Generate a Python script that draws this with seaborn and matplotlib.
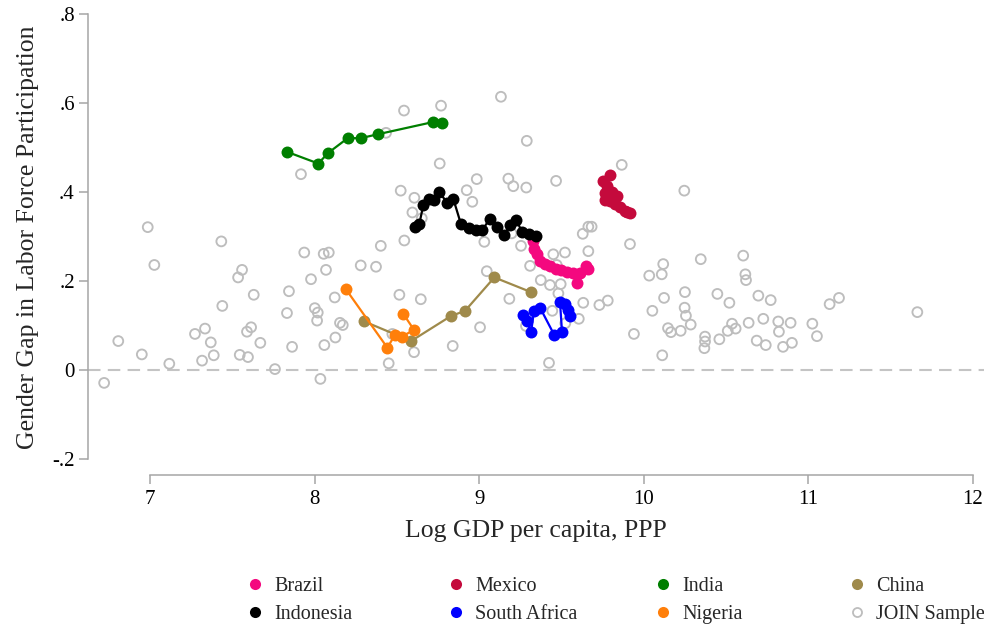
import numpy as np
import pandas as pd
import matplotlib
matplotlib.use("Agg")
import matplotlib.pyplot as plt
import seaborn as sns
from matplotlib.lines import Line2D

# ---------------- data ----------------
join_gdp = [6.986, 7.026, 7.433, 7.559, 7.535, 7.630, 7.439, 7.844, 7.832, 7.937,
            8.055, 8.086, 8.069, 7.978, 8.122, 8.001, 8.019, 8.015, 8.154, 8.171,
            8.126, 8.059, 7.863, 7.670, 7.614, 7.589, 7.334, 7.273, 7.369, 7.387,
            7.316, 7.545, 7.595, 6.807, 6.950, 7.117, 7.759, 6.721, 8.035, 7.917,
            9.132, 8.768, 8.543, 8.434, 9.289, 8.760, 9.866, 8.985, 9.177, 9.207,
            9.286, 9.467, 8.523, 8.924, 8.606, 8.958, 8.594, 8.651, 8.402, 8.545,
            9.031, 9.197, 9.254, 9.629, 9.683, 9.663, 9.916, 9.450, 9.521, 9.663,
            9.309, 9.471, 8.280, 8.373, 9.046, 9.374, 9.430, 9.495, 9.481, 8.515,
            8.645, 9.183, 9.632, 9.730, 9.781, 9.444, 9.605, 9.523, 9.005, 9.284,
            8.472, 8.604, 8.839, 8.450, 9.424,
            10.246, 10.118, 10.033, 10.109, 10.346, 10.604, 10.617, 10.621, 10.123, 10.250,
            10.052, 10.248, 10.256, 10.447, 10.520, 10.696, 10.771, 11.129, 11.186, 11.662,
            9.940, 10.147, 10.165, 10.224, 10.285, 10.372, 10.372, 10.368, 10.459, 10.510,
            10.536, 10.558, 10.637, 10.726, 10.686, 10.741, 10.817, 10.821, 10.892, 10.846,
            10.900, 11.024, 11.052, 10.112]
join_gap = [0.321, 0.236, 0.289, 0.225, 0.208, 0.169, 0.144, 0.177, 0.128, 0.264,
            0.261, 0.264, 0.225, 0.204, 0.163, 0.139, 0.129, 0.111, 0.106, 0.101,
            0.073, 0.056, 0.052, 0.061, 0.096, 0.086, 0.093, 0.081, 0.062, 0.033,
            0.021, 0.034, 0.029, 0.065, 0.035, 0.014, 0.002, -0.029, -0.020, 0.440,
            0.614, 0.594, 0.583, 0.533, 0.515, 0.464, 0.461, 0.429, 0.430, 0.413,
            0.410, 0.425, 0.403, 0.404, 0.387, 0.378, 0.354, 0.341, 0.279, 0.291,
            0.288, 0.307, 0.279, 0.306, 0.322, 0.322, 0.283, 0.260, 0.264, 0.267,
            0.234, 0.236, 0.235, 0.232, 0.222, 0.202, 0.191, 0.193, 0.172, 0.169,
            0.159, 0.160, 0.151, 0.146, 0.156, 0.133, 0.115, 0.105, 0.096, 0.099,
            0.081, 0.040, 0.054, 0.015, 0.016,
            0.403, 0.238, 0.212, 0.215, 0.249, 0.257, 0.215, 0.202, 0.162, 0.175,
            0.133, 0.140, 0.122, 0.171, 0.151, 0.167, 0.157, 0.148, 0.162, 0.130,
            0.081, 0.094, 0.085, 0.088, 0.102, 0.075, 0.064, 0.049, 0.069, 0.088,
            0.104, 0.093, 0.106, 0.115, 0.066, 0.056, 0.109, 0.086, 0.106, 0.052,
            0.061, 0.104, 0.076, 0.033]

brazil_gdp = [9.324, 9.333, 9.354, 9.369, 9.400, 9.430, 9.464, 9.497, 9.533, 9.567, 9.592, 9.615, 9.649, 9.663]
brazil_gap = [0.290, 0.272, 0.261, 0.245, 0.238, 0.233, 0.228, 0.224, 0.221, 0.217, 0.196, 0.219, 0.233, 0.226]

mexico_gdp = [9.795, 9.752, 9.776, 9.764, 9.804, 9.816, 9.837, 9.782, 9.767, 9.795, 9.825, 9.855, 9.886, 9.898, 9.919]
mexico_gap = [0.439, 0.424, 0.413, 0.398, 0.401, 0.390, 0.391, 0.391, 0.383, 0.379, 0.374, 0.366, 0.358, 0.355, 0.352]

india_gdp = [7.834, 8.022, 8.083, 8.201, 8.280, 8.387, 8.717, 8.772]
india_gap = [0.490, 0.464, 0.488, 0.521, 0.521, 0.530, 0.557, 0.554]

china_gdp = [8.302, 8.586, 8.827, 8.914, 9.092, 9.315]
china_gap = [0.109, 0.065, 0.121, 0.133, 0.208, 0.175]

indonesia_gdp = [8.610, 8.636, 8.660, 8.694, 8.724, 8.758, 8.804, 8.843, 8.889, 8.938,
                 8.981, 9.017, 9.064, 9.109, 9.151, 9.187, 9.225, 9.261, 9.301, 9.346]
indonesia_gap = [0.322, 0.328, 0.370, 0.384, 0.381, 0.400, 0.376, 0.384, 0.328, 0.318,
                 0.315, 0.314, 0.339, 0.321, 0.304, 0.325, 0.337, 0.310, 0.306, 0.300]

safrica_gdp = [9.268, 9.289, 9.315, 9.333, 9.371, 9.457, 9.503, 9.491, 9.521, 9.538, 9.550]
safrica_gap = [0.124, 0.110, 0.085, 0.133, 0.139, 0.078, 0.086, 0.152, 0.149, 0.134, 0.122]

nigeria_gdp = [8.189, 8.442, 8.488, 8.529, 8.604, 8.539]
nigeria_gap = [0.182, 0.050, 0.079, 0.075, 0.090, 0.126]

countries = ["Brazil", "Mexico", "India", "China", "Indonesia", "South Africa", "Nigeria"]
colors = ["#F4087F", "#C40A3C", "#007F00", "#9F8A4B", "#000000", "#0000FF", "#FF7F0A"]
series = [(brazil_gdp, brazil_gap), (mexico_gdp, mexico_gap), (india_gdp, india_gap),
          (china_gdp, china_gap), (indonesia_gdp, indonesia_gap),
          (safrica_gdp, safrica_gap), (nigeria_gdp, nigeria_gap)]

x_ticks = [7, 8, 9, 10, 11, 12]
y_ticks = [-0.2, 0, 0.2, 0.4, 0.6, 0.8]
y_tick_labels = ["-.2", "0", ".2", ".4", ".6", ".8"]

frames = []
for name, (gx, gy) in zip(countries, series):
    frames.append(pd.DataFrame({"gdp": gx, "gap": gy, "country": name,
                                "step": np.arange(len(gx))}))
df = pd.concat(frames, ignore_index=True)

# ---------------- figure ----------------
sns.set_theme(style="white")
plt.rcParams["font.family"] = ["Liberation Serif", "DejaVu Serif"]

fig = plt.figure(figsize=(9.84, 6.25), dpi=100)
ax = fig.add_axes([88 / 984, 150 / 625, 896 / 984, 465 / 625])

GRAY = "#BDBDBD"
ax.axhline(0, color="#C4C4C4", lw=1.5, dashes=(6, 3.5), zorder=0.5)

sns.scatterplot(x=join_gdp, y=join_gap, ax=ax, marker="o", s=50,
                facecolors="none", edgecolors=GRAY, linewidth=1.35, zorder=1)

sns.lineplot(data=df, x="gdp", y="gap", hue="country", hue_order=countries,
             palette=dict(zip(countries, colors)), sort=False, estimator=None,
             units="country", marker="o", markersize=8.6, markeredgewidth=0,
             linewidth=1.6, legend=False, ax=ax, zorder=2)

ax.set_xlim(6.623, 12.067)
ax.set_ylim(-0.236, 0.809)
ax.set_xticks(x_ticks)
ax.set_xticklabels([str(t) for t in x_ticks])
ax.set_yticks(y_ticks)
ax.set_yticklabels(y_tick_labels)

for side in ["top", "right"]:
    ax.spines[side].set_visible(False)
for side in ["left", "bottom"]:
    ax.spines[side].set_color("#A6A6A6")
    ax.spines[side].set_linewidth(1.1)
ax.spines["left"].set_bounds(-0.2, 0.8)
ax.spines["bottom"].set_bounds(7, 12)

ax.tick_params(axis="both", which="major", direction="out", length=6.5, width=1.1,
               color="#A6A6A6", labelsize=15, labelcolor="black",
               bottom=True, left=True, top=False, right=False)
ax.tick_params(axis="x", pad=4)
ax.tick_params(axis="y", pad=3)

ax.set_xlabel("Log GDP per capita, PPP", fontsize=18.5, labelpad=8)
ax.set_ylabel("Gender Gap in Labor Force Participation", fontsize=18.5)
ax.yaxis.set_label_coords(-0.055, 0.512)
ax.grid(False)

# ---------------- legend (4 columns) ----------------
handles = []
for name, c in zip(countries, colors):
    handles.append(Line2D([], [], marker="o", linestyle="", color=c,
                          markersize=8, markeredgewidth=0, label=name))
handles.append(Line2D([], [], marker="o", linestyle="", markerfacecolor="none",
                      markeredgecolor=GRAY, markeredgewidth=1.3, markersize=6.5,
                      label="JOIN Sample"))
by_name = {h.get_label(): h for h in handles}
columns = [["Brazil", "Indonesia"], ["Mexico", "South Africa"],
           ["India", "Nigeria"], ["China", "JOIN Sample"]]
col_x = [245, 446, 653, 847]
for xs, names in zip(col_x, columns):
    fig.legend(handles=[by_name[n] for n in names], loc="upper left",
               bbox_to_anchor=(xs / 984, 1 - 577 / 625), frameon=False,
               fontsize=14.5, handlelength=1.0, handletextpad=0.45,
               labelspacing=0.45, borderpad=0, borderaxespad=0)

fig.savefig("out.png", dpi=100)
